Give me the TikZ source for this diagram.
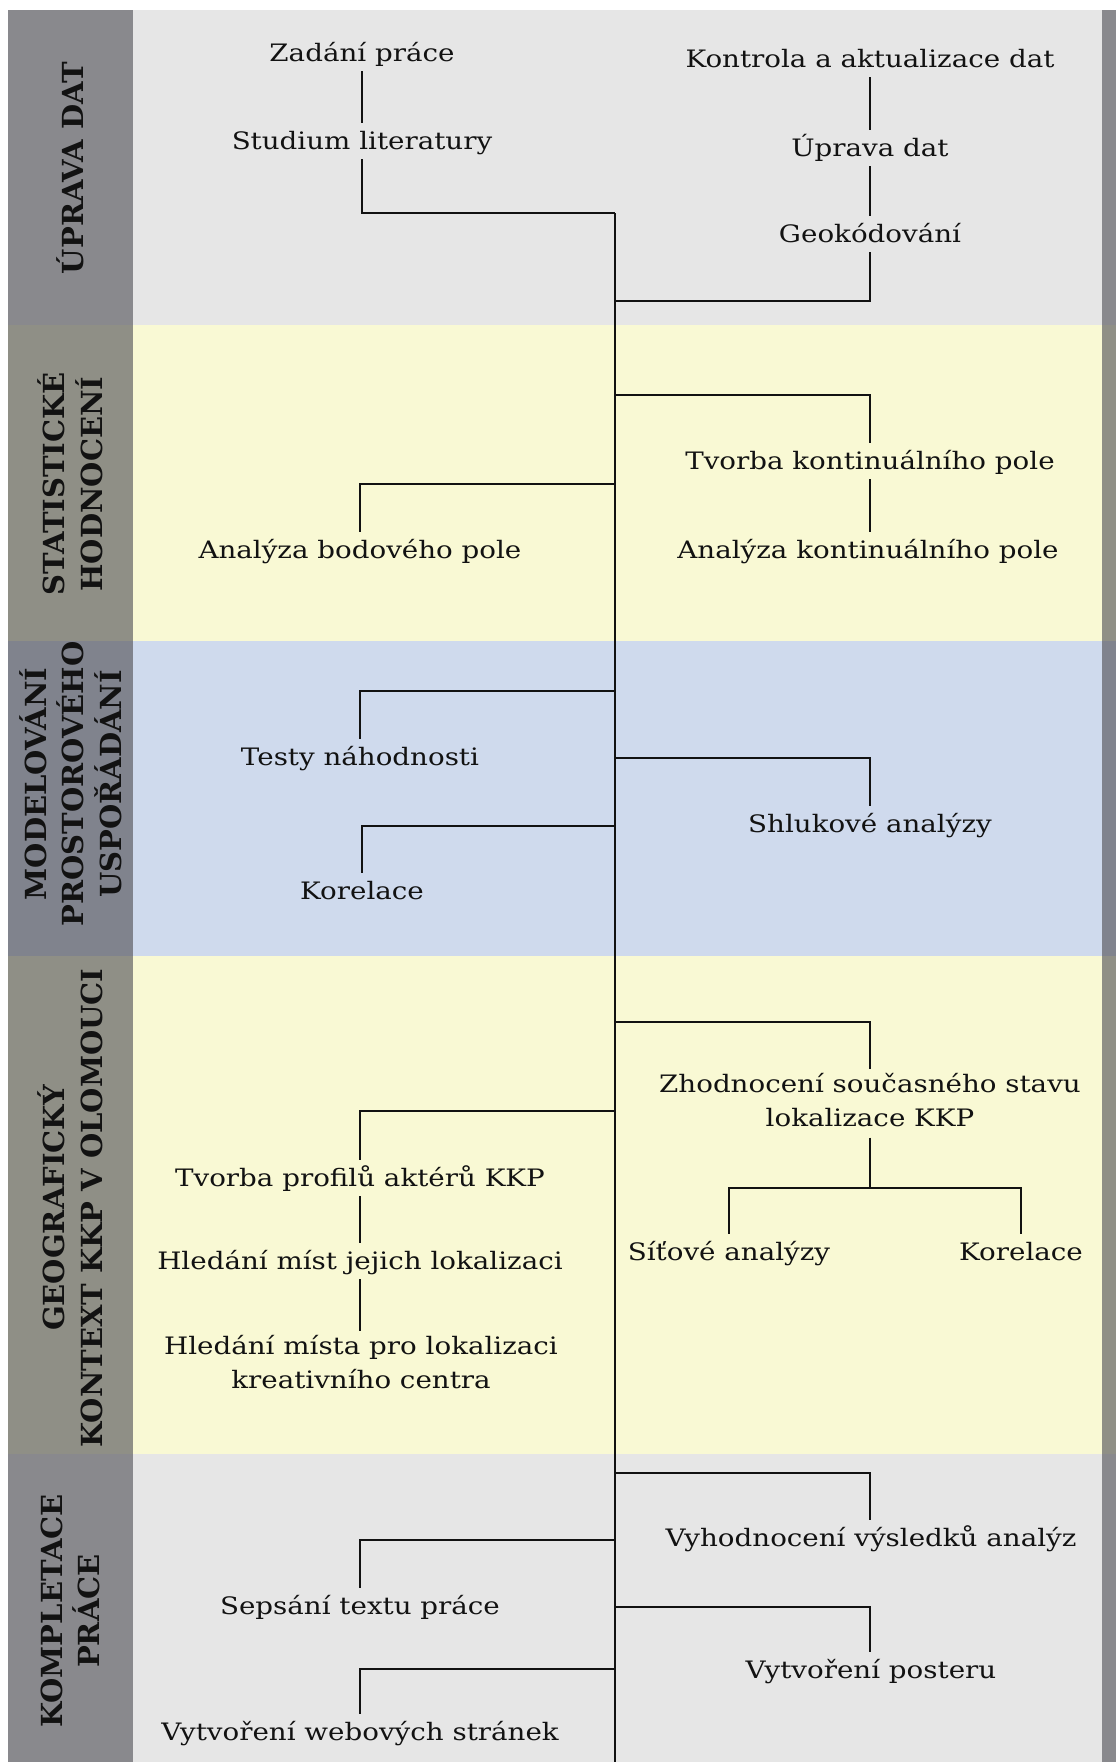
\documentclass[tikz,border=0pt]{standalone}
\usepackage{fontspec}
\setmainfont{DejaVu Serif}[FakeStretch=1.155]
\newfontfamily\sidefont{DejaVu Serif}
\definecolor{bgGray}{RGB}{230,230,230}
\definecolor{bgYel}{RGB}{249,249,212}
\definecolor{bgBlue}{RGB}{207,218,237}
\definecolor{dkGray}{RGB}{137,137,141}
\definecolor{dkYel}{RGB}{143,143,134}
\definecolor{dkBlue}{RGB}{128,131,141}
\definecolor{ink}{RGB}{18,18,18}
\newcommand\mainfs{\fontsize{24}{34}\selectfont}
\newcommand\sidefs{\sidefont\bfseries\fontsize{29}{37.5}\selectfont}
\tikzset{
  lbl/.style={font=\mainfs, text=ink, inner sep=0pt, outer sep=4pt, text height=22pt, text depth=6pt, yshift=-2pt},
  multi/.style={font=\mainfs, text=ink, inner sep=0pt, outer sep=4pt, align=center},
  side/.style={font=\sidefs, text=ink, rotate=90, align=center, inner sep=0pt},
  conn/.style={draw=ink, line width=1.9pt},
}
\begin{document}
\begin{tikzpicture}[x=1pt,y=-1pt]
\useasboundingbox (0,0) rectangle (1116,1762);
% bands
\fill[bgGray] (8,10) rectangle (1116,325);
\fill[bgYel] (8,325) rectangle (1116,641);
\fill[bgBlue] (8,641) rectangle (1116,956);
\fill[bgYel] (8,956) rectangle (1116,1454);
\fill[bgGray] (8,1454) rectangle (1116,1762);
\fill[dkGray] (8,10) rectangle (133,325);
\fill[dkYel] (8,325) rectangle (133,641);
\fill[dkBlue] (8,641) rectangle (133,956);
\fill[dkYel] (8,956) rectangle (133,1454);
\fill[dkGray] (8,1454) rectangle (133,1762);
\fill[dkGray] (1102,10) rectangle (1116,325);
\fill[dkYel] (1102,325) rectangle (1116,641);
\fill[dkBlue] (1102,641) rectangle (1116,956);
\fill[dkYel] (1102,956) rectangle (1116,1454);
\fill[dkGray] (1102,1454) rectangle (1116,1762);
% side labels
\node[side] (s1) at (70.5,168) {ÚPRAVA DAT};
\node[side] (s2) at (70.5,484) {STATISTICKÉ\\HODNOCENÍ};
\node[side] (s3) at (70.5,784) {MODELOVÁNÍ\\PROSTOROVÉHO\\USPOŘÁDÁNÍ};
\node[side] (s4) at (70.5,1208) {GEOGRAFICKÝ\\KONTEXT KKP V OLOMOUCI};
\node[side] (s5) at (70.5,1611) {KOMPLETACE\\PRÁCE};
% text nodes
\node[lbl] (zad) at (362,51) {Zadání práce};
\node[lbl] (stu) at (362,139) {Studium literatury};
\node[lbl] (kon) at (870,57) {Kontrola a aktualizace dat};
\node[lbl] (upr) at (870,146) {Úprava dat};
\node[lbl] (geo) at (870,232) {Geokódování};
\node[lbl] (tkp) at (870,459) {Tvorba kontinuálního pole};
\node[lbl] (akp) at (868,548) {Analýza kontinuálního pole};
\node[lbl] (abp) at (360,548) {Analýza bodového pole};
\node[lbl] (tes) at (360,755) {Testy náhodnosti};
\node[lbl] (shl) at (870,822) {Shlukové analýzy};
\node[lbl] (kor1) at (362,889) {Korelace};
\node[multi, anchor=north] (zh) at (870,1069) {Zhodnocení současného stavu\\lokalizace KKP};
\node[lbl] (sit) at (729,1250) {Síťové analýzy};
\node[lbl] (kor2) at (1021,1250) {Korelace};
\node[lbl] (tpa) at (360,1176) {Tvorba profilů aktérů KKP};
\node[lbl] (hmj) at (360,1259) {Hledání míst jejich lokalizaci};
\node[multi, anchor=north] (hmp) at (361,1331) {Hledání místa pro lokalizaci\\kreativního centra};
\node[lbl] (vyh) at (871,1536) {Vyhodnocení výsledků analýz};
\node[lbl] (sep) at (360,1604) {Sepsání textu práce};
\node[lbl] (pos) at (871,1668) {Vytvoření posteru};
\node[lbl] (web) at (360,1730) {Vytvoření webových stránek};
% trunk coordinates
\coordinate (t0) at (615,213);
\coordinate (tg) at (615,301);
\coordinate (b1) at (615,395);
\coordinate (b2) at (615,484);
\coordinate (b3) at (615,691);
\coordinate (b4) at (615,758);
\coordinate (b5) at (615,826);
\coordinate (b6) at (615,1022);
\coordinate (b7) at (615,1111);
\coordinate (b8) at (615,1473);
\coordinate (b9) at (615,1540);
\coordinate (b10) at (615,1607);
\coordinate (b11) at (615,1669);
\coordinate (bot) at (615,1762);
\coordinate (j) at (870,1188);
% connectors
\draw[conn] (t0) -- (bot);
\draw[conn] (zad.south) -- (stu.north);
\draw[conn] (stu.south) |- (t0);
\draw[conn] (kon.south) -- (upr.north);
\draw[conn] (upr.south) -- (geo.north);
\draw[conn] (geo.south) |- (tg);
\draw[conn] (b1) -| (tkp.north);
\draw[conn] (tkp.south) -- (akp.north -| tkp.south);
\draw[conn] (b2) -| (abp.north);
\draw[conn] (b3) -| (tes.north);
\draw[conn] (b4) -| (shl.north);
\draw[conn] (b5) -| (kor1.north);
\draw[conn] (b6) -| (zh.north);
\draw[conn] (zh.south) ++(0,7) -- (j);
\draw[conn] (j) -| (sit.north);
\draw[conn] (j) -| (kor2.north);
\draw[conn] (b7) -| (tpa.north);
\draw[conn] (tpa.south) -- (hmj.north);
\draw[conn] (hmj.south) -- (hmp.north -| hmj.south);
\draw[conn] (b8) -| (vyh.north -| zh.north);
\draw[conn] (b9) -| (sep.north);
\draw[conn] (b10) -| (pos.north -| zh.north);
\draw[conn] (b11) -| (web.north);
\end{tikzpicture}
\end{document}
